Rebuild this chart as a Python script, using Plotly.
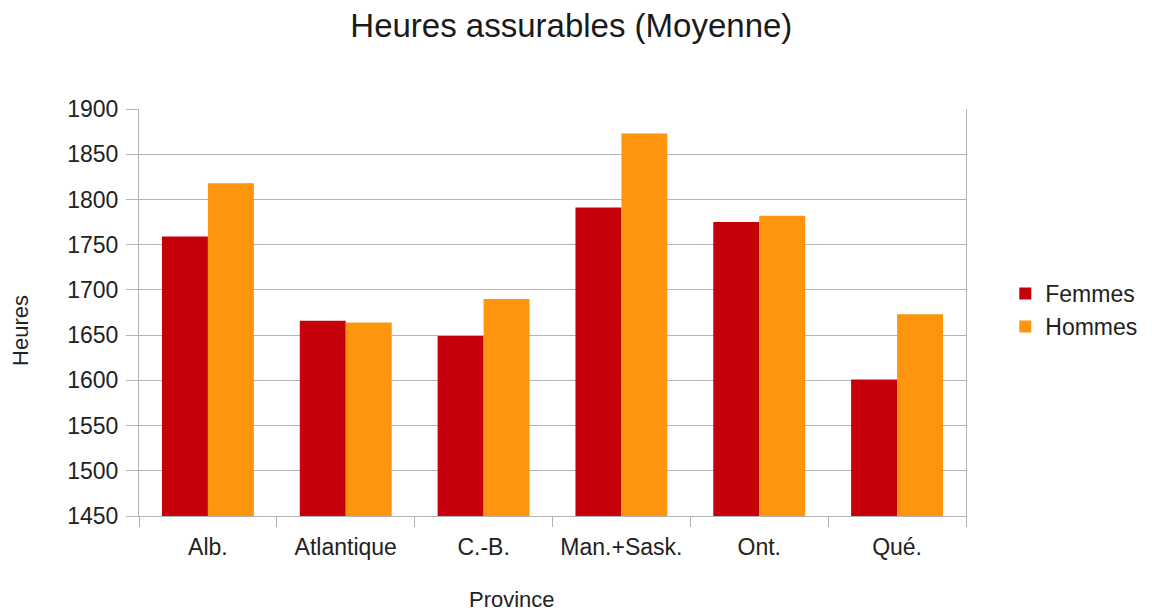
import plotly.graph_objects as go

provinces = ["Alb.", "Atlantique", "C.-B.", "Man.+Sask.", "Ont.", "Qué."]
femmes = [1759, 1666, 1649, 1791, 1775, 1601]
hommes = [1818, 1664, 1690, 1873, 1782, 1673]

font_family = "Liberation Sans, Arial, sans-serif"
grey = "#b3b3b3"

fig = go.Figure()
fig.add_trace(go.Bar(name="Femmes", x=provinces, y=femmes, marker_color="#c5000b",
                     marker_line_width=0))
fig.add_trace(go.Bar(name="Hommes", x=provinces, y=hommes, marker_color="#ff950e",
                     marker_line_width=0))

fig.update_layout(
    width=1152, height=611,
    paper_bgcolor="white", plot_bgcolor="white",
    barmode="group", bargap=0.333, bargroupgap=0,
    margin=dict(l=131, r=194, t=101, b=103),
    font=dict(family=font_family, color="#222222", size=23),
    title=dict(text="Heures assurables (Moyenne)", x=0.489, xanchor="center",
               y=0.972, yanchor="middle", font=dict(size=33, color="#1a1a1a")),
    legend=dict(x=1.0475, y=0.506, xanchor="left", yanchor="middle",
                font=dict(size=23), itemsizing="constant"),
    showlegend=True,
    annotations=[
        dict(text="Province", xref="paper", yref="paper", x=0.451, y=-0.204,
             xanchor="center", yanchor="middle", showarrow=False,
             font=dict(size=22, color="#222222")),
        dict(text="Heures", xref="paper", yref="paper", x=-0.144, y=0.457,
             xanchor="center", yanchor="middle", showarrow=False, textangle=-90,
             font=dict(size=22, color="#222222")),
    ],
)
fig.update_xaxes(
    showline=True, linecolor=grey, linewidth=1, mirror=False,
    ticks="outside", tickson="boundaries", ticklen=10, tickcolor=grey,
    ticklabelstandoff=10, showgrid=False,
)
fig.update_yaxes(
    range=[1450, 1900], dtick=50, tick0=1450,
    showline=True, linecolor=grey, linewidth=1, mirror=True,
    ticks="outside", ticklen=12, tickcolor=grey, ticklabelstandoff=3,
    showgrid=True, gridcolor=grey, gridwidth=1,
)

fig.write_html("out.html")
